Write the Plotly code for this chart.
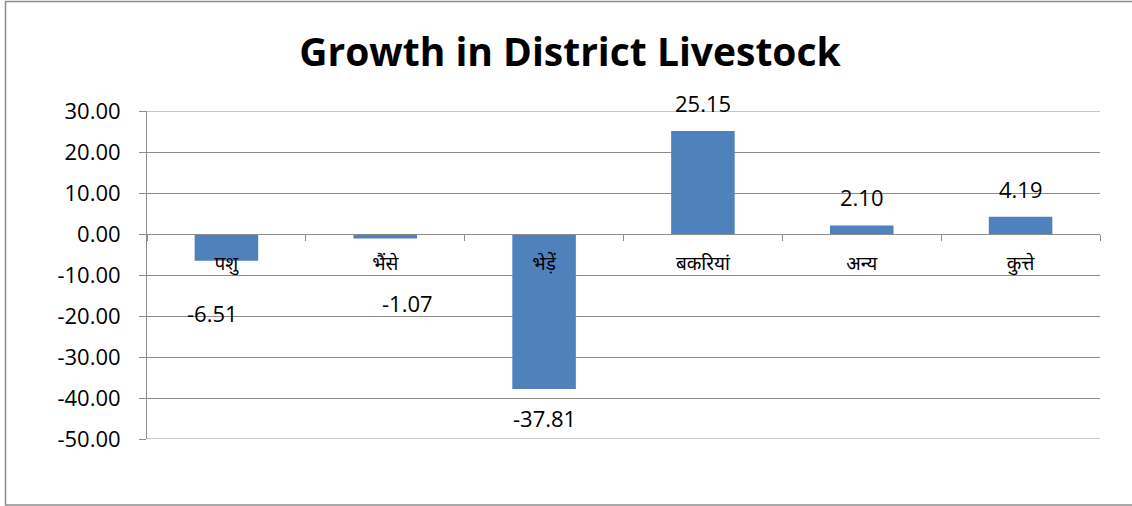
import plotly.graph_objects as go

categories = ["पशु", "भैंसे", "भेड़ें", "बकरियां", "अन्य", "कुत्ते"]
values = [-6.51, -1.07, -37.81, 25.15, 2.10, 4.19]
label_shift_y = [-52, -65, -29, 28, 28, 28]  # pixel offsets of data labels from bar end
label_shift_x = [-14, 22, 0, 0, 0, 0]
y_ticks = [30, 20, 10, 0, -10, -20, -30, -40, -50]
y_tick_text = [f"{v:.2f}" for v in y_ticks]

W, H = 1132, 506
L, R, T, B = 147, 1100, 111, 439
pw, ph = R - L, B - T

def px(x):
    return (x - L) / pw

def py(y):
    return (B - y) / ph

font_main = "Open Sans, Liberation Sans, Noto Sans, sans-serif"
grid_col = "#8c8c8c"

fig = go.Figure()
fig.add_trace(go.Bar(
    x=categories, y=values,
    marker=dict(color="#4f81bd", line=dict(width=0)),
    hoverinfo="x+y",
))

for c, v, sy, sx in zip(categories, values, label_shift_y, label_shift_x):
    fig.add_annotation(x=c, y=v, text=f"{v:.2f}", showarrow=False,
                       yshift=sy, xshift=sx,
                       font=dict(size=22, color="#000", family=font_main))

shapes = [dict(type="line", xref="paper", yref="y", x0=0, x1=1, y0=t, y1=t,
               line=dict(color=grid_col, width=1), layer="below")
          for t in (y_ticks[0], y_ticks[-1])]
shapes.append(dict(type="rect", xref="paper", yref="paper",
                   x0=px(5.5), x1=px(1140), y0=py(505), y1=py(1.5),
                   line=dict(color="#8c8c8c", width=1.5), fillcolor="rgba(0,0,0,0)", layer="below"))

fig.update_layout(
    width=W, height=H,
    margin=dict(l=L, r=W - R, t=T, b=H - B, pad=0),
    paper_bgcolor="white", plot_bgcolor="white",
    bargap=0.6,
    showlegend=False,
    title=dict(text="<b>Growth in District Livestock</b>", x=570 / W, xanchor="center",
               y=1 - 52 / H, yanchor="middle",
               font=dict(size=39, color="#000", family=font_main)),
    xaxis=dict(
        anchor="free", position=py(234),
        showline=True, linecolor=grid_col, linewidth=1,
        ticks="outside", ticklen=6, tickcolor=grid_col, tickson="boundaries",
        tickfont=dict(size=19, color="#000", family="Noto Sans, " + font_main),
        ticklabelstandoff=12,
        showgrid=False, zeroline=False, fixedrange=True,
    ),
    yaxis=dict(
        range=[-50, 30], tickvals=y_ticks, ticktext=y_tick_text,
        showline=True, linecolor=grid_col, linewidth=1,
        ticks="outside", ticklen=7, tickcolor=grid_col,
        showgrid=True, gridcolor=grid_col, gridwidth=1,
        zeroline=False,
        tickfont=dict(size=22, color="#000", family=font_main),
        ticklabelstandoff=14,
    ),
    shapes=shapes,
)

fig.write_html("out.html", config={"displayModeBar": False},
               post_script="document.body.style.margin='0';document.body.style.overflow='hidden';")
